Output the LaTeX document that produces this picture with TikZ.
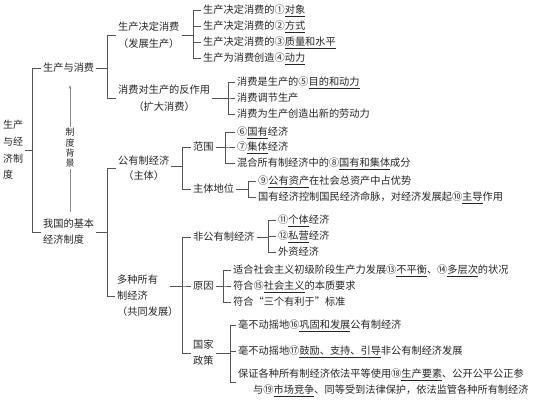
\documentclass[tikz,border=0pt]{standalone}
\usepackage{fontspec}
\setmainfont{Noto Sans CJK SC}
\usetikzlibrary{arrows.meta}
\definecolor{txtc}{HTML}{262626}
\definecolor{linec}{HTML}{555555}
\definecolor{arrc}{HTML}{8A8A8A}
\newcommand\uln[1]{\smash{\underline{#1}}}
\newcommand\cn[1]{\makebox[1em]{#1}}
\newcommand\fsz{\fontsize{10.2}{16.5}\selectfont}
\begin{document}
\begin{tikzpicture}[x=1pt,y=-1pt,
  tx/.style={inner xsep=2pt, inner ysep=0.5pt, anchor=west, text=txtc, font=\fsz, align=left},
  txc/.style={tx, align=center},
  ln/.style={draw=linec, line width=0.6pt},
  vtx/.style={inner sep=1pt, fill=white, text=txtc, font=\fontsize{9}{10.3}\selectfont, align=center}]
\fill[white] (0,0) rectangle (539,400);
\useasboundingbox (0,0) rectangle (539,400);
% bracket x positions
\coordinate (b0) at (32,0);
\coordinate (bA) at (107,0);
\coordinate (bB) at (107,0);
\coordinate (bA1) at (193,0);
\coordinate (bA2) at (228,0);
\coordinate (bC) at (182,0);
\coordinate (bC1) at (225,0);
\coordinate (bC2) at (248,0);
\coordinate (bD) at (182,0);
\coordinate (bD1) at (268,0);
\coordinate (bD2) at (223,0);
\coordinate (bD3) at (230,0);
% nodes
\node[tx, font=\fontsize{10}{16.7}\selectfont] (L0) at (1,150) {生产\\与经\\济制\\度};
\node[tx] (A) at (41,68) {生产与消费};
\node[tx, font=\fontsize{10.2}{16}\selectfont] (B) at (41,232) {我国的基本\\经济制度};
\node[txc, font=\fontsize{10.2}{17}\selectfont] (A1) at (116,35) {生产决定消费\\（发展生产）};
\node[txc, font=\fontsize{10.2}{17}\selectfont] (A2) at (116,98) {消费对生产的反作用\\（扩大消费）};
\node[tx] (a11) at (201,10) {生产决定消费的\cn{①}\uln{对象}};
\node[tx] (a12) at (201,26) {生产决定消费的\cn{②}\uln{方式}};
\node[tx] (a13) at (201,42) {生产决定消费的\cn{③}\uln{质量和水平}};
\node[tx] (a14) at (201,58) {生产为消费创造\cn{④}\uln{动力}};
\node[tx] (a21) at (235,82) {消费是生产的\cn{⑤}\uln{目的和动力}};
\node[tx] (a22) at (235,98) {消费调节生产};
\node[tx] (a23) at (235,114) {消费为生产创造出新的劳动力};
\node[txc, font=\fontsize{10.2}{15.5}\selectfont] (C) at (116,168) {公有制经济\\（主体）};
\node[tx, font=\fontsize{10.2}{16}\selectfont] (D) at (115,296) {多种所有\\制经济\\（共同发展）};
\node[tx] (C1) at (191,147) {范围};
\node[tx] (C2) at (191,189) {主体地位};
\node[tx] (c11) at (235,132) {\cn{⑥}\uln{国有}经济};
\node[tx] (c12) at (235,147) {\cn{⑦}\uln{集体}经济};
\node[tx] (c13) at (235,163) {混合所有制经济中的\cn{⑧}\uln{国有和集体}成分};
\node[tx] (c21) at (256,181) {\cn{⑨}\uln{公有资产}在社会总资产中占优势};
\node[tx] (c22) at (256,197) {国有经济控制国民经济命脉，对经济发展起\cn{⑩}\uln{主导}作用};
\node[tx] (D1) at (191,237) {非公有制经济};
\node[tx] (D2) at (191,286) {原因};
\node[tx, font=\fontsize{10.2}{16}\selectfont] (D3) at (191,353) {国家\\政策};
\node[tx] (d11) at (276,220) {\cn{⑪}\uln{个体}经济};
\node[tx] (d12) at (276,236) {\cn{⑫}\uln{私营}经济};
\node[tx] (d13) at (276,252) {外资经济};
\node[tx] (d21) at (231,270) {适合社会主义初级阶段生产力发展\cn{⑬}\uln{不平衡}、\cn{⑭}\uln{多层次}的状况};
\node[tx] (d22) at (231,286) {符合\cn{⑮}\uln{社会主义}的本质要求};
\node[tx] (d23) at (231,302) {符合“三个有利于”标准};
\node[tx] (d31) at (236,325) {毫不动摇地\cn{⑯}\uln{巩固和发展}公有制经济};
\node[tx] (d32) at (236,351) {毫不动摇地\cn{⑰}\uln{鼓励、支持、引导}非公有制经济发展};
\node[tx, font=\fontsize{10.2}{16}\selectfont] (d33) at (236,382) {保证各种所有制经济依法平等使用\cn{⑱}\uln{生产要素}、公开公平公正参\\\hspace*{15pt}与\cn{⑲}\uln{市场竞争}、同等受到法律保护，依法监管各种所有制经济};
% arrow with label
\coordinate (arS) at (70,212);
\coordinate (arE) at (70,85);
\draw[draw=arrc, line width=0.6pt, -{Stealth[length=4pt,width=2.6pt]}] (arS) -- (arE);
\node[vtx] (bg) at (70,148) {制\\度\\背\\景};
% connectors
\foreach \c in {A,B} \draw[ln] (L0.east) -- (L0.east -| b0) |- (\c.west);
\foreach \c in {A1,A2} \draw[ln] (A.east) -- (A.east -| bA) |- (\c.west);
\foreach \c in {C,D} \draw[ln] (B.east) -- (B.east -| bB) |- (\c.west);
\foreach \c in {a11,a12,a13,a14} \draw[ln] (A1.east) -- (A1.east -| bA1) |- (\c.west);
\foreach \c in {a21,a22,a23} \draw[ln] (A2.east) -- (A2.east -| bA2) |- (\c.west);
\coordinate (cR) at ([yshift=2pt]C.east);
\foreach \c in {C1,C2} \draw[ln] (cR) -- (cR -| bC) |- (\c.west);
\foreach \c in {c11,c12,c13} \draw[ln] (C1.east) -- (C1.east -| bC1) |- (\c.west);
\foreach \c in {c21,c22} \draw[ln] (C2.east) -- (C2.east -| bC2) |- (\c.west);
\coordinate (dR) at ([shift={(55,-10)}]D.west);
\foreach \c in {D1,D2,D3} \draw[ln] (dR) -- (dR -| bD) |- (\c.west);
\foreach \c in {d11,d12,d13} \draw[ln] (D1.east) -- (D1.east -| bD1) |- (\c.west);
\foreach \c in {d21,d22,d23} \draw[ln] (D2.east) -- (D2.east -| bD2) |- (\c.west);
\foreach \c in {d31,d32,d33} \draw[ln] (D3.east) -- (D3.east -| bD3) |- (\c.west);
\end{tikzpicture}
\end{document}
